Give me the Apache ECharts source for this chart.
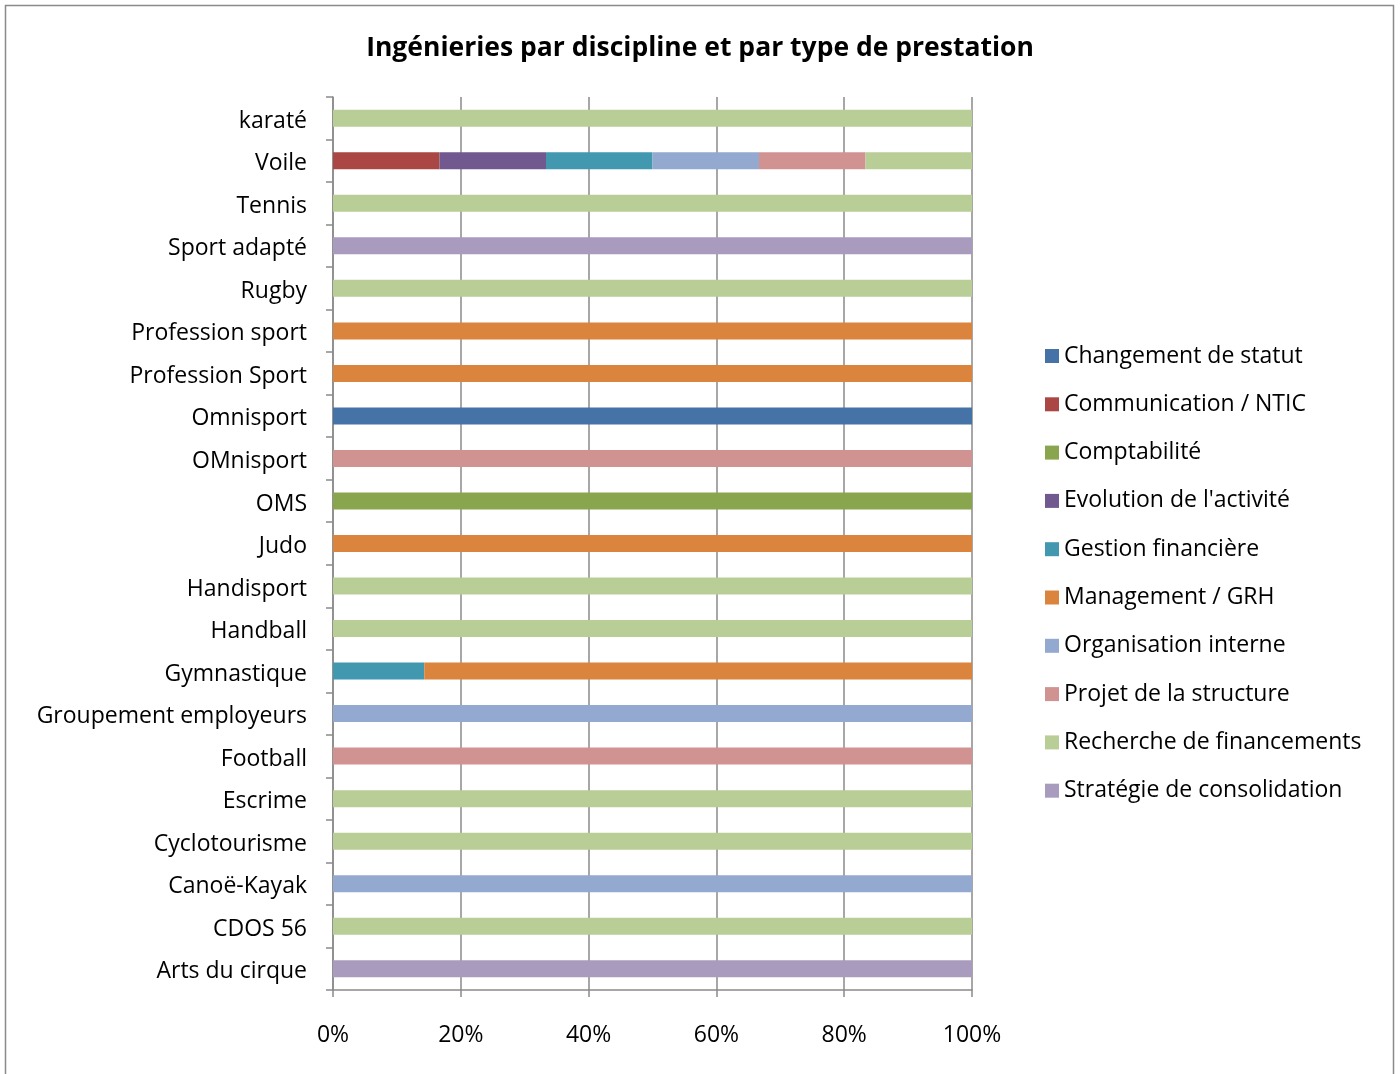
<!DOCTYPE html>
<html>
<head>
    <meta charset="utf-8">
    <title>Ingénieries par discipline</title>
    <script src="https://cdn.jsdelivr.net/npm/echarts@6/dist/echarts.min.js"></script>
    <style>
        html, body { margin: 0; padding: 0; background: #fff; }
        #chart { width: 1400px; height: 1074px; }
    </style>
</head>
<body>
    <div id="chart"></div>
    <script type="text/javascript">
        // categories, bottom to top
        var categories = ['Arts du cirque', 'CDOS 56', 'Canoë-Kayak', 'Cyclotourisme', 'Escrime', 'Football',
            'Groupement employeurs', 'Gymnastique', 'Handball', 'Handisport', 'Judo', 'OMS', 'OMnisport',
            'Omnisport', 'Profession Sport', 'Profession sport', 'Rugby', 'Sport adapté', 'Tennis', 'Voile', 'karaté'];

        var seriesNames = ['Changement de statut', 'Communication / NTIC', 'Comptabilité', "Evolution de l'activité",
            'Gestion financière', 'Management / GRH', 'Organisation interne', 'Projet de la structure',
            'Recherche de financements', 'Stratégie de consolidation'];

        var colors = ['#4572A7', '#AA4643', '#89A54E', '#71588F', '#4198AF', '#DB843D', '#93A9CF', '#D19392', '#B9CD96', '#A99BBD'];

        // counts per category (same order as categories)
        var changement    = [0,0,0,0,0,0,0,0,0,0,0,0,0,1,0,0,0,0,0,0,0];
        var communication = [0,0,0,0,0,0,0,0,0,0,0,0,0,0,0,0,0,0,0,1,0];
        var comptabilite  = [0,0,0,0,0,0,0,0,0,0,0,1,0,0,0,0,0,0,0,0,0];
        var evolution     = [0,0,0,0,0,0,0,0,0,0,0,0,0,0,0,0,0,0,0,1,0];
        var gestion       = [0,0,0,0,0,0,0,1,0,0,0,0,0,0,0,0,0,0,0,1,0];
        var management    = [0,0,0,0,0,0,0,6,0,0,1,0,0,0,1,1,0,0,0,0,0];
        var organisation  = [0,0,1,0,0,0,1,0,0,0,0,0,0,0,0,0,0,0,0,1,0];
        var projet        = [0,0,0,0,0,1,0,0,0,0,0,0,1,0,0,0,0,0,0,1,0];
        var recherche     = [0,1,0,1,1,0,0,0,1,1,0,0,0,0,0,0,1,0,1,1,1];
        var strategie     = [1,0,0,0,0,0,0,0,0,0,0,0,0,0,0,0,0,1,0,0,0];

        var counts = [changement, communication, comptabilite, evolution, gestion,
            management, organisation, projet, recherche, strategie];

        var xTicks = [0, 20, 40, 60, 80, 100];

        var totals = categories.map(function (c, i) {
            var s = 0;
            counts.forEach(function (arr) { s += arr[i]; });
            return s;
        });

        var font = '"Open Sans", sans-serif';
        var gray = '#8a8a8a';

        var series = seriesNames.map(function (name, k) {
            return {
                name: name,
                type: 'bar',
                stack: 'total',
                barWidth: 17,
                itemStyle: { color: colors[k] },
                data: counts[k].map(function (v, i) {
                    return totals[i] ? v / totals[i] * 100 : 0;
                })
            };
        });

        var chart = echarts.init(document.getElementById('chart'));
        chart.setOption({
            animation: false,
            title: {
                text: 'Ingénieries par discipline et par type de prestation',
                left: 'center',
                top: 30,
                textStyle: { fontFamily: font, fontWeight: 'bold', fontSize: 26.5, color: '#000' }
            },
            legend: {
                orient: 'vertical',
                left: 1045,
                top: 342,
                padding: 0,
                itemWidth: 14,
                itemHeight: 14,
                itemGap: 20.3,
                icon: 'rect',
                data: seriesNames,
                textStyle: { fontFamily: font, fontSize: 23, color: '#000', lineHeight: 28 }
            },
            graphic: [{
                type: 'rect',
                shape: { x: 5.5, y: 5.5, width: 1388, height: 1090 },
                style: { fill: 'none', stroke: gray, lineWidth: 1.5 },
                silent: true
            }],
            grid: { left: 333, right: 428, top: 97, bottom: 84 },
            xAxis: {
                type: 'value',
                min: xTicks[0],
                max: xTicks[xTicks.length - 1],
                interval: 20,
                axisLine: { show: true, lineStyle: { color: gray, width: 1.5 } },
                axisTick: { show: true, length: 7, lineStyle: { color: gray, width: 1.5 } },
                splitLine: { show: true, lineStyle: { color: gray, width: 1.5 } },
                axisLabel: {
                    formatter: '{value}%',
                    margin: 34,
                    fontFamily: font,
                    fontSize: 23,
                    color: '#000'
                }
            },
            yAxis: {
                type: 'category',
                data: categories,
                axisLine: { show: true, lineStyle: { color: gray, width: 1.5 } },
                axisTick: { show: true, length: 7, lineStyle: { color: gray, width: 1.5 } },
                axisLabel: {
                    margin: 26,
                    formatter: '{l|{value}}',
                    rich: {
                        l: { fontFamily: font, fontSize: 23, color: '#000', padding: [6, 0, 0, 0] }
                    }
                }
            },
            series: series
        });
    </script>
</body>
</html>
